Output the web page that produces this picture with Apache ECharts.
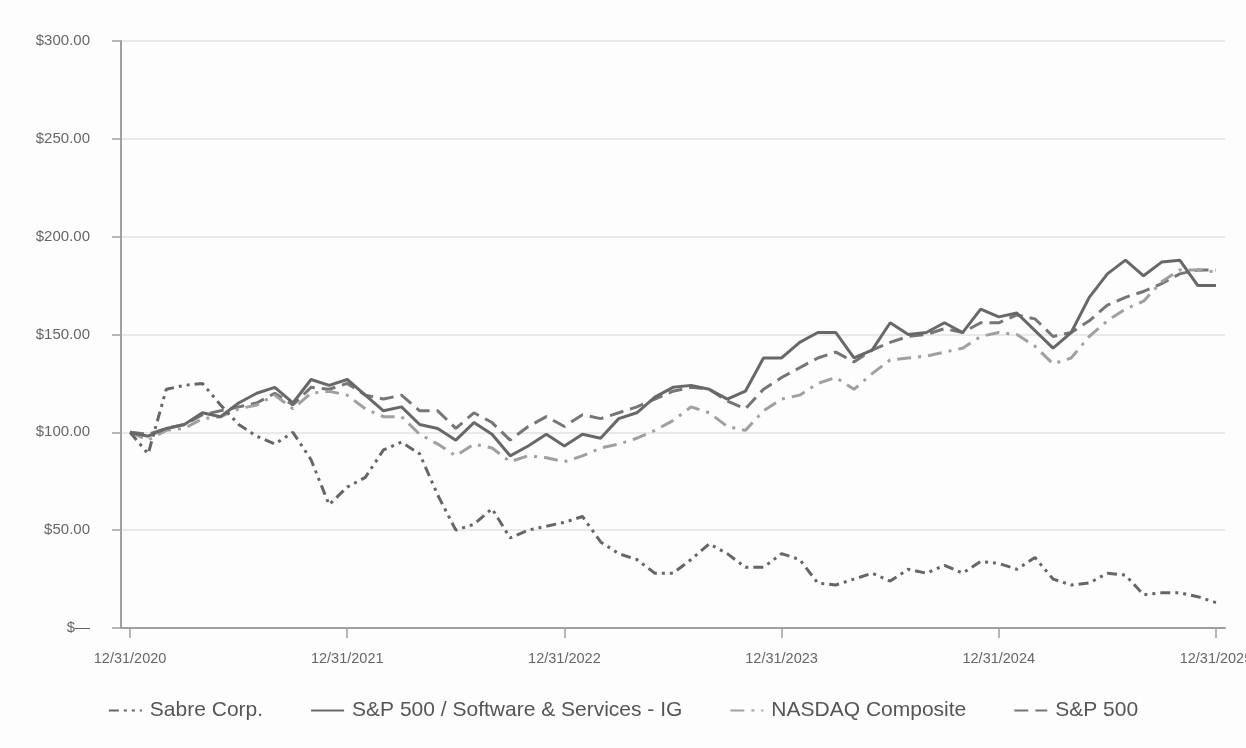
<!DOCTYPE html>
<html>
<head>
<meta charset="utf-8">
<script src="https://cdn.jsdelivr.net/npm/echarts@6/dist/echarts.min.js"></script>
<style>
html,body{margin:0;padding:0;background:#fdfdfd;}
#chart{width:1246px;height:748px;}
</style>
</head>
<body>
<div id="chart"></div>
<script>
// Monthly index values, 12/31/2020 .. 12/31/2025 (61 months)
const monthIndex = Array.from({length: 61}, (_, i) => i);
const tickMonths = [0, 12, 24, 36, 48, 60];
const tickLabels = ['12/31/2020', '12/31/2021', '12/31/2022', '12/31/2023', '12/31/2024', '12/31/2025'];

const seriesNames = ['Sabre Corp.', 'S&P 500 / Software & Services - IG', 'NASDAQ Composite', 'S&P 500'];

const sabre = [100, 89, 122, 124, 125, 114, 104, 98, 94, 100, 86,
  63, 72, 77, 91, 95, 89, 68, 50, 53, 61,
  46, 50, 52, 54, 57, 44, 38, 35, 28, 28,
  35, 43, 38, 31, 31, 38, 35, 23, 22, 25,
  28, 24, 30, 28, 32, 28, 34, 33, 30, 36,
  25, 22, 23, 28, 27, 17, 18, 18, 16, 13];

const software = [100, 98, 102, 104, 110, 108, 115, 120, 123, 115, 127,
  124, 127, 119, 111, 113, 104, 102, 96, 105, 99,
  88, 93, 99, 93, 99, 97, 107, 110, 118, 123,
  124, 122, 117, 121, 138, 138, 146, 151, 151, 138,
  142, 156, 150, 151, 156, 151, 163, 159, 161, 152,
  143, 151, 169, 181, 188, 180, 187, 188, 175, 175];

const nasdaq = [100, 96, 101, 102, 107, 108, 112, 114, 119, 112, 120,
  121, 119, 112, 108, 108, 99, 94, 88, 94, 92,
  85, 88, 87, 85, 88, 92, 94, 97, 101, 106,
  113, 110, 103, 101, 111, 117, 119, 125, 128, 122,
  130, 137, 138, 139, 141, 143, 149, 151, 150, 144,
  135, 138, 149, 157, 163, 167, 177, 183, 183, 182];

const sp500 = [100, 99, 102, 104, 109, 111, 113, 115, 120, 114, 123,
  122, 125, 119, 117, 119, 111, 111, 102, 110, 105,
  96, 103, 108, 103, 109, 107, 110, 113, 117, 121,
  123, 122, 116, 112, 122, 128, 133, 138, 141, 136,
  142, 146, 149, 150, 153, 151, 156, 156, 160, 158,
  149, 151, 157, 165, 169, 172, 176, 181, 183, 183];

const toPairs = arr => arr.map((v, i) => [monthIndex[i], v]);

const chart = echarts.init(document.getElementById('chart'), null, {renderer: 'canvas'});
const FONT = '"Liberation Sans", Arial, Helvetica, sans-serif';

const styles = [
  {color: '#666666', type: [10, 5, 3, 5, 3, 5]},
  {color: '#686868', type: 'solid'},
  {color: '#a0a0a0', type: [14, 7, 3, 7]},
  {color: '#767676', type: [14, 7]}
];
const datas = [sabre, software, nasdaq, sp500];

chart.setOption({
  backgroundColor: '#fdfdfd',
  animation: false,
  grid: {left: 121, right: 21, top: 41, bottom: 120, containLabel: false, outerBoundsMode: 'none'},
  legend: {
    data: seriesNames,
    left: 'center',
    top: 695,
    itemWidth: 33,
    itemHeight: 14,
    itemGap: 47,
    itemStyle: {opacity: 0},
    textStyle: {fontFamily: FONT, fontSize: 21, color: '#555555', padding: [0, 0, 0, 3]}
  },
  xAxis: {
    type: 'value',
    min: -0.5,
    max: 60.5,
    axisLine: {show: true, onZero: false, lineStyle: {color: '#a0a0a0', width: 2}},
    axisTick: {show: true, customValues: tickMonths, length: 10, lineStyle: {color: '#a0a0a0', width: 1.5}},
    axisLabel: {
      customValues: tickMonths,
      margin: 23,
      fontFamily: FONT, fontSize: 14.5, color: '#666666',
      formatter: v => tickLabels[tickMonths.indexOf(Math.round(v))] || ''
    },
    splitLine: {show: false}
  },
  yAxis: {
    type: 'value',
    min: 0, max: 300, interval: 50,
    axisLine: {show: true, onZero: false, lineStyle: {color: '#a0a0a0', width: 2}},
    axisTick: {show: true, length: 9, lineStyle: {color: '#a0a0a0', width: 1.5}},
    axisLabel: {
      margin: 31,
      fontFamily: FONT, fontSize: 15, color: '#666666',
      formatter: v => v === 0 ? '$\u2014' : '$' + v.toFixed(2)
    },
    splitLine: {show: true, lineStyle: {color: '#e2e2e2', width: 1.5}}
  },
  series: seriesNames.map((name, k) => ({
    name: name,
    type: 'line',
    data: toPairs(datas[k]),
    symbol: 'none',
    smooth: false,
    z: 4 - k,
    color: styles[k].color,
    lineStyle: {color: styles[k].color, width: 3, type: styles[k].type}
  }))
});
</script>
</body>
</html>
